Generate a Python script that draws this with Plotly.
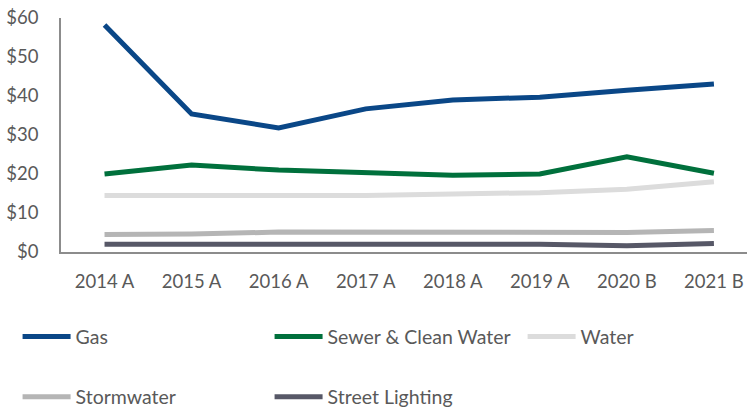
import plotly.graph_objects as go

categories = ["2014 A", "2015 A", "2016 A", "2017 A", "2018 A", "2019 A", "2020 B", "2021 B"]
gas = [58.2, 35.4, 31.8, 36.7, 39.0, 39.7, 41.5, 43.1]
sewer = [20.0, 22.3, 21.0, 20.3, 19.7, 20.0, 24.4, 20.2]
water = [14.5, 14.5, 14.5, 14.5, 14.9, 15.2, 16.1, 18.0]
stormwater = [4.5, 4.6, 5.1, 5.1, 5.1, 5.1, 5.0, 5.5]
street = [2.0, 2.0, 2.0, 2.1, 2.0, 2.0, 1.6, 2.2]
yticks = [0, 10, 20, 30, 40, 50, 60]
ytick_labels = ["$0", "$10", "$20", "$30", "$40", "$50", "$60"]

series = [
    ("Gas", gas, "#0A4787", "legend"),
    ("Sewer & Clean Water", sewer, "#00703C", "legend"),
    ("Water", water, "#DCDCDC", "legend3"),
    ("Stormwater", stormwater, "#B5B5B5", "legend2"),
    ("Street Lighting", street, "#575867", "legend2"),
]

fig = go.Figure()
for name, vals, color, leg in series:
    fig.add_trace(go.Scatter(x=categories, y=vals, name=name, mode="lines",
                             line=dict(color=color, width=5), legend=leg))

tickfont = dict(family="Lato", size=18.5, color="#595959")
legfont = dict(family="Lato", size=19.5, color="#595959")
legcommon = dict(orientation="h", xanchor="left", yanchor="middle",
                 entrywidth=189, entrywidthmode="pixels", itemwidth=48,
                 font=legfont, traceorder="normal")
fig.update_layout(
    width=747, height=408,
    margin=dict(l=61, r=0, t=18, b=156, autoexpand=False),
    plot_bgcolor="white", paper_bgcolor="white",
    font=tickfont,
    xaxis=dict(range=[-0.5, 7.38], showgrid=False, showline=True, linecolor="#8C8C8C",
               linewidth=1.5, ticks="", tickfont=tickfont, ticklabelstandoff=12),
    yaxis=dict(range=[0, 60], tickvals=yticks, ticktext=ytick_labels, showgrid=False,
               showline=True, linecolor="#8C8C8C", linewidth=1.5, ticks="",
               tickfont=tickfont, ticklabelstandoff=17, zeroline=False),
    legend=dict(x=-0.0633, y=-0.363, **legcommon),
    legend3=dict(x=0.6729, y=-0.363, **legcommon),
    legend2=dict(x=-0.0633, y=-0.620, **legcommon),
    showlegend=True,
)

fig.write_html("out.html", config={"displayModeBar": False},
               post_script="document.body.style.margin='0px';")
